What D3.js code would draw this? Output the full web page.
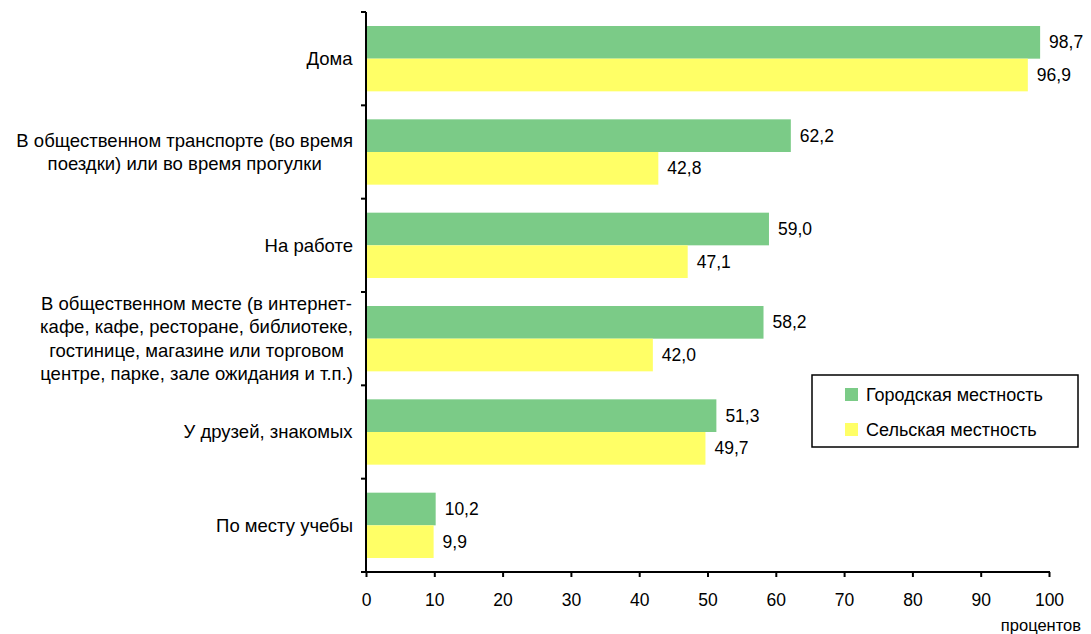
<!DOCTYPE html>
<html><head><meta charset="utf-8">
<script src="https://cdn.jsdelivr.net/npm/d3@7"></script>
<style>body{margin:0;background:#fff}svg{display:block}text{font-family:"Liberation Sans",Arial,sans-serif;fill:#000}</style>
</head><body>
<svg id="c" width="1091" height="634"></svg>
<script>
const categories = [
  ["Дома"],
  ["В общественном транспорте (во время", "поездки) или во время прогулки"],
  ["На работе"],
  ["В общественном месте (в интернет-", "кафе, кафе, ресторане, библиотеке,", "гостинице, магазине или торговом", "центре, парке, зале ожидания и т.п.)"],
  ["У друзей, знакомых"],
  ["По месту учебы"]
];
const urban = [98.7, 62.2, 59.0, 58.2, 51.3, 10.2];
const rural = [96.9, 42.8, 47.1, 42.0, 49.7, 9.9];
const seriesNames = ["Городская местность", "Сельская местность"];
const xTicks = [0,10,20,30,40,50,60,70,80,90,100];
const colors = ["#7BCB87", "#FFFF66"];

const svg = d3.select("#c");
const L = 366, R = 1049, T = 12, B = 572;
const x = d3.scaleLinear().domain([0,100]).range([L,R]);
const y = d3.scaleBand().domain(d3.range(categories.length)).range([T,B]).paddingInner(0.3).paddingOuter(0.15);
const sub = d3.scaleBand().domain([0,1]).range([0,y.bandwidth()]);
const fmt = v => v.toFixed(1).replace(".", ",");
const fs = 18;

const data = categories.map((c,i)=>({i, vals:[urban[i], rural[i]]}));
const g = svg.append("g");
data.forEach(d=>{
  d.vals.forEach((v,s)=>{
    const yy = y(d.i)+sub(s);
    g.append("rect").attr("x",x(0)).attr("y",yy).attr("width",x(v)-x(0)).attr("height",sub.bandwidth()).attr("fill",colors[s]);
    g.append("text").attr("x",x(v)+9).attr("y",yy+sub.bandwidth()/2).attr("dy","0.35em").attr("font-size",fs-0.5).text(fmt(v));
  });
});

// category labels
const step = (B-T)/categories.length;
categories.forEach((lines,i)=>{
  const cy = T + step*i + step/2;
  const t = svg.append("text").attr("font-size",fs+0.5).attr("text-anchor","middle");
  const lh = 23.3;
  lines.forEach((ln,k)=>{
    t.append("tspan").attr("x",0).attr("y", cy + (k-(lines.length-1)/2)*lh).attr("dy","0.35em").text(ln);
  });
  const w = t.node().getBBox().width;
  t.selectAll("tspan").attr("x", 353 - w/2);
});

// y axis
svg.append("line").attr("x1",L).attr("x2",L).attr("y1",T).attr("y2",B).attr("stroke","#000").attr("stroke-width",2);
d3.range(categories.length+1).forEach(k=>{
  const yy = T + step*k;
  svg.append("line").attr("x1",L-5).attr("x2",L).attr("y1",yy).attr("y2",yy).attr("stroke","#000").attr("stroke-width",2);
});
// x axis
const xa = svg.append("g").attr("transform",`translate(0,${B})`)
  .call(d3.axisBottom(x).tickValues(xTicks).tickSize(5).tickPadding(17).tickFormat(d=>d));
xa.select(".domain").attr("stroke","#000").attr("stroke-width",2).attr("d",`M${L-1},0H${R+1}`);
xa.selectAll(".tick line").attr("stroke","#000").attr("stroke-width",2);
xa.selectAll("text").attr("font-size",fs-0.5).attr("font-family",'"Liberation Sans",Arial,sans-serif');
svg.append("text").attr("x",1081).attr("y",631).attr("text-anchor","end").attr("font-size",fs-1.5).text("процентов");

// legend
const lg = svg.append("g").attr("transform","translate(812,375)");
lg.append("rect").attr("width",266).attr("height",72).attr("fill","#fff").attr("stroke","#000").attr("stroke-width",1.5);
seriesNames.forEach((n,s)=>{
  lg.append("rect").attr("x",33).attr("y",13+s*35).attr("width",13).attr("height",13).attr("fill",colors[s]);
  lg.append("text").attr("x",54).attr("y",19.5+s*35).attr("dy","0.35em").attr("font-size",fs).text(n);
});
</script>
</body></html>
